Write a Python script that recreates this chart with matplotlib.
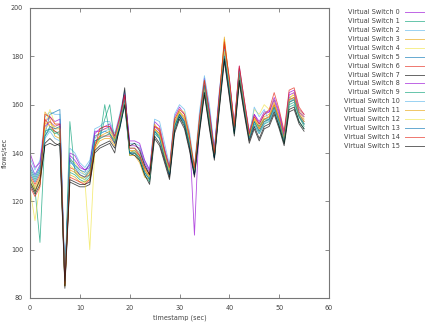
import matplotlib
matplotlib.use("Agg")
import matplotlib.pyplot as plt
from matplotlib.lines import Line2D

timestamps = list(range(56))

s0 = [136,131,135,153,155,153,154,87,139,137,134,133,135,148,150,151,152,147,155,165,143,143,142,136,132,153,151,142,134,155,159,156,148,106,155,171,158,141,165,185,171,152,176,162,149,156,153,157,157,163,157,148,165,166,158,156]
s1 = [130,125,103,147,150,149,147,85,132,131,129,128,130,143,146,154,160,144,151,160,139,140,137,131,128,148,146,138,131,150,155,152,143,131,150,166,152,138,160,180,166,149,171,158,146,152,148,152,153,158,151,144,159,160,153,150]
s2 = [138,133,137,155,157,156,156,87,142,140,136,134,137,150,151,153,153,148,156,166,144,144,143,137,133,154,153,144,135,156,160,158,149,134,157,172,160,142,166,183,168,150,173,158,146,151,148,152,154,158,152,146,161,163,156,152]
s3 = [128,125,129,157,154,147,146,86,131,130,128,128,129,142,145,146,146,143,154,163,139,139,136,130,129,152,149,138,133,154,157,155,146,133,154,170,156,140,163,187,170,151,175,161,148,155,151,155,156,161,155,147,163,164,157,154]
s4 = [125,112,127,152,158,152,151,86,137,136,133,131,133,146,149,150,150,146,153,161,142,142,140,134,131,151,150,141,132,153,158,157,147,132,153,167,155,139,162,182,168,150,173,160,147,158,156,160,158,162,153,146,162,165,158,155]
s5 = [134,130,134,148,156,157,158,88,138,135,133,132,136,147,148,149,148,145,150,160,140,140,138,133,130,149,147,140,131,151,156,153,144,131,151,167,154,138,161,183,167,149,174,159,146,153,149,153,154,159,153,145,161,162,155,152]
s6 = [131,127,131,154,151,149,148,85,134,133,131,130,131,144,147,147,147,144,152,163,141,141,139,133,130,150,148,139,132,152,157,154,145,133,152,169,155,139,162,184,169,150,172,160,147,154,150,154,155,160,154,146,162,163,156,153]
s7 = [127,123,127,144,146,144,143,84,128,127,126,126,127,140,142,143,144,140,152,167,140,139,137,131,127,146,143,136,129,148,154,150,141,130,148,164,150,137,158,178,163,147,169,156,144,150,145,150,151,156,150,143,157,158,152,149]
s8 = [140,134,136,151,153,151,152,86,140,139,135,133,134,149,149,150,151,146,154,164,145,145,144,137,133,151,149,141,133,153,156,153,146,131,153,168,157,141,164,181,170,151,175,161,148,156,152,156,157,162,156,147,164,165,157,155]
s9 = [133,129,133,149,150,148,149,86,153,132,130,129,131,145,146,160,148,145,151,161,140,141,138,132,129,149,147,139,132,151,156,152,144,132,151,168,153,139,161,181,167,148,172,159,147,153,151,154,154,159,152,145,160,161,155,151]
s10 = [135,131,134,146,149,146,145,87,136,135,132,131,134,146,148,149,150,147,153,162,142,142,140,135,131,150,147,140,133,152,157,154,145,134,152,169,156,140,162,183,169,150,174,160,147,159,155,158,153,158,152,146,163,162,156,153]
s11 = [130,126,130,152,153,150,150,85,133,132,130,130,132,143,147,148,149,146,152,162,141,140,138,133,130,150,148,140,132,152,157,154,145,133,152,168,155,139,162,188,169,150,173,160,147,154,150,154,155,160,154,146,162,163,156,153]
s12 = [129,124,128,150,152,151,150,86,135,133,130,129,100,141,146,147,148,145,152,161,141,141,138,133,130,150,147,139,132,152,157,154,145,132,152,167,154,139,161,182,168,150,173,159,146,154,149,153,154,159,153,145,161,162,155,152]
s13 = [132,128,132,147,151,150,151,87,137,134,131,130,133,145,146,147,148,144,151,162,140,140,138,132,129,149,146,138,131,151,156,153,144,131,151,168,154,138,161,180,167,149,173,159,146,153,149,153,154,159,153,145,161,162,155,152]
s14 = [126,122,126,156,155,152,152,86,130,129,128,127,129,142,150,151,151,147,155,164,142,142,139,134,131,151,150,141,134,154,158,156,147,134,154,170,157,140,164,186,171,151,176,162,148,155,152,156,158,165,158,149,166,167,159,156]
s15 = [128,124,129,143,144,143,144,85,129,128,127,127,128,141,143,144,145,142,150,160,143,144,141,135,131,147,144,137,130,149,155,151,142,131,149,165,151,138,159,179,164,148,170,157,145,151,146,151,152,157,151,144,158,159,153,150]

series = [s0, s1, s2, s3, s4, s5, s6, s7, s8, s9, s10, s11, s12, s13, s14, s15]
labels = [f"Virtual Switch {i}" for i in range(16)]
palette = ["#9400D3", "#009E73", "#56B4E9", "#E69F00", "#F0E442", "#0072B2", "#E51E10", "#000000"]

xticks = [0, 10, 20, 30, 40, 50, 60]
yticks = [80, 100, 120, 140, 160, 180, 200]

W, H = 430, 328
fig = plt.figure(figsize=(W / 100, H / 100), dpi=100)
ax = fig.add_axes([30 / W, 1 - 298 / H, (329 - 30) / W, (298 - 8) / H])

fs = 4.7
tc = "#444444"
for i, ys in enumerate(series):
    ax.plot(timestamps, ys, color=palette[i % 8], lw=0.6, alpha=0.7)

ax.set_xlim(0, 60)
ax.set_ylim(80, 200)
ax.set_xticks(xticks)
ax.set_yticks(yticks)
ax.tick_params(direction="in", length=3, width=0.6, top=True, right=True,
               labelsize=fs, labelcolor=tc, colors="#777777", pad=5)
for sp in ax.spines.values():
    sp.set_color("#777777")
    sp.set_linewidth(0.8)
ax.set_xlabel("timestamp (sec)", fontsize=fs, color=tc)
ax.set_ylabel("flows/sec", fontsize=fs, color=tc)
ax.xaxis.set_label_coords(0.5, -0.058)
ax.yaxis.set_label_coords(-0.075, 0.5)

for i, lab in enumerate(labels):
    ypx = 12 + 8.93 * i
    yf = 1 - ypx / H
    fig.text(400 / W, yf, lab, ha="right", va="center", fontsize=fs, color=tc)
    fig.add_artist(Line2D([405 / W, 424 / W], [yf, yf], color=palette[i % 8],
                          lw=0.7, alpha=0.6, transform=fig.transFigure))

fig.savefig("out.png", dpi=100)
